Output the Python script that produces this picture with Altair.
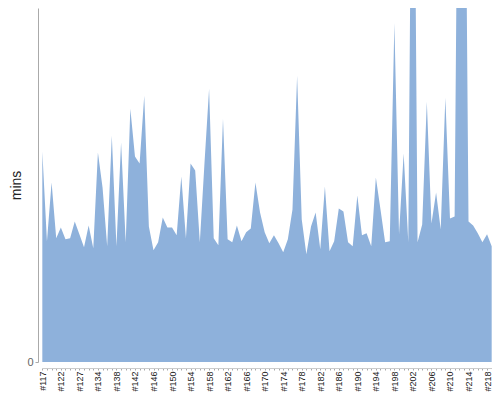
import altair as alt
import pandas as pd

# category labels (build IDs); a few early numbers are absent in the source
ids = [117, 118, 119, 121, 122, 123, 124, 126, 127, 129, 131, 132] + list(range(134, 220))
cats = ["#" + str(i) for i in ids]

# minutes per build
mins = [
    21.1, 12.1, 18.0, 12.4, 13.5, 12.3, 12.4, 14.1, 12.8, 11.5,
    13.7, 11.4, 21.0, 17.5, 11.6, 22.7, 11.6, 22.0, 12.0, 25.4,
    20.6, 19.9, 26.7, 13.6, 11.2, 12.0, 14.5, 13.5, 13.5, 12.7,
    18.6, 12.4, 19.9, 19.2, 12.0, 19.9, 27.4, 12.4, 11.7, 24.4,
    12.3, 12.0, 13.7, 12.1, 13.0, 13.4, 18.0, 15.0, 13.0, 11.9,
    12.7, 11.9, 11.0, 12.3, 15.3, 28.7, 14.3, 10.8, 13.6, 15.0,
    11.3, 17.6, 11.1, 12.1, 15.4, 15.1, 12.0, 11.6, 16.7, 12.7,
    12.9, 11.6, 18.5, 15.3, 12.0, 12.1, 34.0, 12.8, 20.9, 12.0,
    73.0, 12.0, 13.8, 26.1, 13.9, 17.0, 13.3, 26.5, 14.4, 14.6,
    72.0, 72.0, 14.1, 13.7, 12.9, 12.0, 12.8, 11.6,
]

shown = cats[::4]

df = pd.DataFrame({"build": cats, "mins": mins})

label_expr = "indexof([" + ",".join("'" + c + "'" for c in shown) + "], datum.label) >= 0 ? datum.label : ''"

chart = (
    alt.Chart(df)
    .mark_area(color="#8eb1db", clip=True, opacity=1)
    .encode(
        x=alt.X(
            "build:O",
            sort=cats,
            scale=alt.Scale(type="point", padding=0.07),
            axis=alt.Axis(
                title=None,
                labelAngle=270,
                labelExpr=label_expr,
                labelOverlap=False,
                labelFont="Liberation Sans",
                labelFontSize=9,
                labelColor="#222222",
                labelPadding=1,
                tickSize=2,
                tickColor="#aaaaaa",
                domainColor="#cccccc",
                offset=6,
                grid=False,
            ),
        ),
        y=alt.Y(
            "mins:Q",
            scale=alt.Scale(domain=[0, 35.5], nice=False, zero=True),
            axis=alt.Axis(
                title="mins",
                values=[0],
                offset=4,
                titleFont="Liberation Sans",
                titleFontSize=14,
                titleFontWeight="normal",
                titleColor="#222222",
                titlePadding=3,
                labelFont="Liberation Sans",
                labelFontSize=11,
                labelColor="#666666",
                tickSize=3,
                tickColor="#aaaaaa",
                domainColor="#aaaaaa",
                grid=False,
            ),
        ),
    )
    .properties(
        width=450,
        height=354,
        autosize=alt.AutoSizeParams(type="none"),
        padding={"left": 34, "top": 0, "right": 0, "bottom": 30},
    )
    .configure_view(stroke=None)
)

chart.save("out.html", embed_options={"renderer": "svg", "actions": False})
